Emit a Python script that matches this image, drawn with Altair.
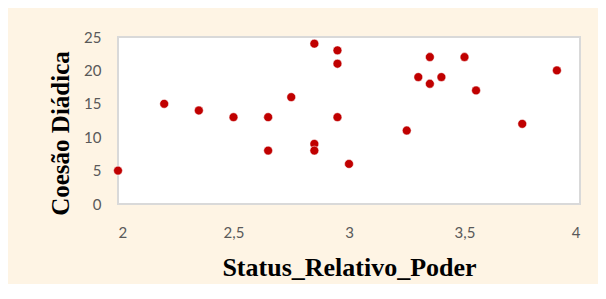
import altair as alt
import pandas as pd

status = [2.0, 2.2, 2.35, 2.5, 2.65, 2.65, 2.75, 2.85, 2.85, 2.85, 2.95, 2.95, 2.95, 3.0,
          3.25, 3.3, 3.35, 3.35, 3.4, 3.5, 3.55, 3.75, 3.9]
coesao = [5, 15, 14, 13, 13, 8, 16, 24, 9, 8, 23, 21, 13, 6,
          11, 19, 22, 18, 19, 22, 17, 12, 20]

x_ticks = [2, 2.5, 3, 3.5, 4]
y_ticks = [0, 5, 10, 15, 20, 25]

df = pd.DataFrame({"Status_Relativo_Poder": status, "Coesão Diádica": coesao})

label_font = "Lato"
title_font = "Liberation Serif"

chart = alt.Chart(df).mark_circle(
    size=78, color="#C00000", opacity=1, stroke="white", strokeWidth=0.5
).encode(
    x=alt.X(
        "Status_Relativo_Poder:Q",
        scale=alt.Scale(domain=[2, 4], nice=False, zero=False),
        axis=alt.Axis(
            values=x_ticks,
            labelExpr="replace(format(datum.value, '~g'), '.', ',')",
            grid=False, ticks=False, domain=False,
            labelFont=label_font, labelFontSize=15, labelColor="#595959",
            labelPadding=21,
            title="Status_Relativo_Poder",
            titleFont=title_font, titleFontSize=26, titleFontWeight="bold",
            titleColor="black", titleX=231, titleY=71,
            titleBaseline="alphabetic", titleAlign="center",
        ),
    ),
    y=alt.Y(
        "Coesão Diádica:Q",
        scale=alt.Scale(domain=[0, 25], nice=False),
        axis=alt.Axis(
            values=y_ticks,
            grid=False, ticks=False, domain=False,
            labelFont=label_font, labelFontSize=15, labelColor="#595959",
            labelPadding=17,
            title="Coesão Diádica",
            titleFont=title_font, titleFontSize=25, titleFontWeight="bold",
            titleColor="black", titleX=-50, titleY=96, titleAngle=-90,
            titleBaseline="alphabetic", titleAlign="center",
        ),
    ),
).properties(
    width=462, height=167,
    autosize=alt.AutoSizeParams(type="none"),
    padding={"left": 110, "top": 29, "right": 18, "bottom": 80},
    background="#FEF4E4",
).configure_view(
    fill="white", stroke="#D9D9D9", strokeWidth=2
)

chart.save("out.html", embed_options={"renderer": "svg", "actions": False})
